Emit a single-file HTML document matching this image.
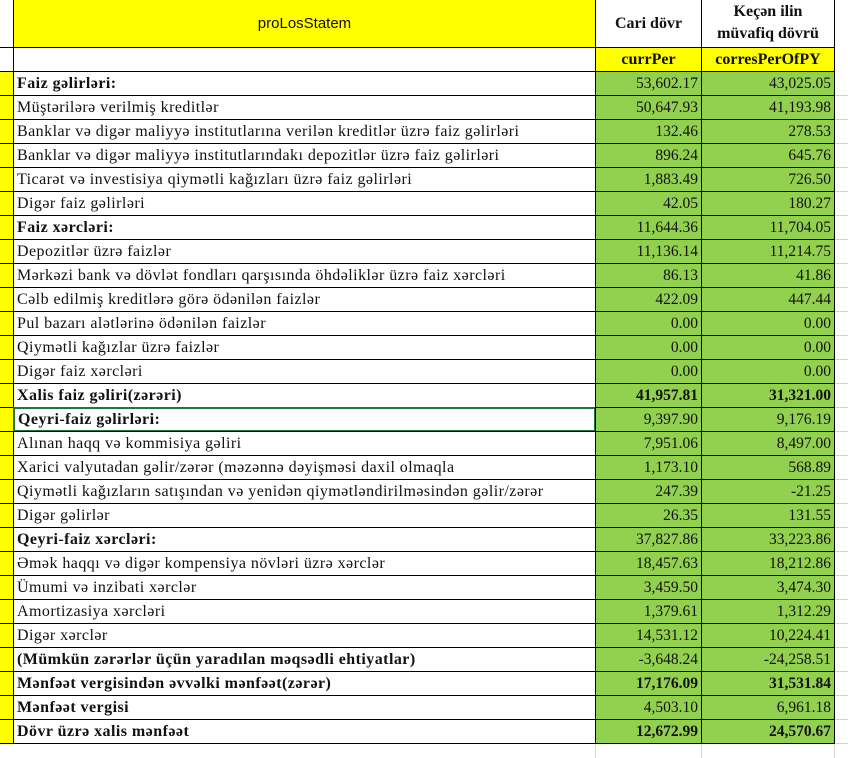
<!DOCTYPE html>
<html><head><meta charset="utf-8"><style>
body{margin:0;width:848px;height:758px;background:#fff;position:relative;overflow:hidden;font-family:"Liberation Serif",serif;font-size:15px;color:#111}
.c{position:absolute;box-sizing:border-box;border:1px solid #000;white-space:nowrap;overflow:hidden;line-height:23px}
.g{background:#92d050;text-align:right;padding-right:3px;font-size:15.5px}
.y{background:#ffff00}
.l{padding-left:3px;font-size:16px;letter-spacing:0.45px}
.b{font-weight:bold}
.grid{position:absolute;background:#d4d4d4}
</style></head><body>
<div class="c y" style="left:-1px;top:-1px;width:15px;height:49px;background:#fff"></div>
<div class="c y" style="left:13px;top:-1px;width:583px;height:49px;text-align:center;font-family:'Liberation Sans',sans-serif;line-height:47px">proLosStatem</div>
<div class="c b" style="left:595px;top:-1px;width:107px;height:49px;text-align:center;line-height:47px;font-size:16px">Cari dövr</div>
<div class="c b" style="left:701px;top:-1px;width:134px;height:49px;text-align:center;line-height:22px;padding-top:1px;font-size:16px">Keçən ilin<br>müvafiq dövrü</div>
<div class="c" style="left:-1px;top:47px;width:15px;height:25px"></div>
<div class="c" style="left:13px;top:47px;width:583px;height:25px"></div>
<div class="c y b" style="left:595px;top:47px;width:107px;height:25px;text-align:center;font-size:16px">currPer</div>
<div class="c y b" style="left:701px;top:47px;width:134px;height:25px;text-align:center;font-size:16px">corresPerOfPY</div>
<div id="rows"></div>
<script>
var d=[
["Faiz gəlirləri:","53,602.17","43,025.05",1,0],
["Müştərilərə verilmiş kreditlər","50,647.93","41,193.98",0,0],
["Banklar və digər maliyyə institutlarına verilən kreditlər üzrə faiz gəlirləri","132.46","278.53",0,0],
["Banklar və digər maliyyə institutlarındakı depozitlər üzrə faiz gəlirləri","896.24","645.76",0,0],
["Ticarət və investisiya qiymətli kağızları üzrə faiz gəlirləri","1,883.49","726.50",0,0],
["Digər faiz gəlirləri","42.05","180.27",0,0],
["Faiz xərcləri:","11,644.36","11,704.05",1,0],
["Depozitlər üzrə faizlər","11,136.14","11,214.75",0,0],
["Mərkəzi bank və dövlət fondları qarşısında öhdəliklər üzrə faiz xərcləri","86.13","41.86",0,0],
["Cəlb edilmiş kreditlərə görə ödənilən faizlər","422.09","447.44",0,0],
["Pul bazarı alətlərinə ödənilən faizlər","0.00","0.00",0,0],
["Qiymətli kağızlar üzrə faizlər","0.00","0.00",0,0],
["Digər faiz xərcləri","0.00","0.00",0,0],
["Xalis faiz gəliri(zərəri)","41,957.81","31,321.00",1,1],
["Qeyri-faiz gəlirləri:","9,397.90","9,176.19",1,0],
["Alınan haqq və kommisiya gəliri","7,951.06","8,497.00",0,0],
["Xarici valyutadan gəlir/zərər (məzənnə dəyişməsi daxil olmaqla","1,173.10","568.89",0,0],
["Qiymətli kağızların satışından və yenidən qiymətləndirilməsindən gəlir/zərər","247.39","-21.25",0,0],
["Digər gəlirlər","26.35","131.55",0,0],
["Qeyri-faiz xərcləri:","37,827.86","33,223.86",1,0],
["Əmək haqqı və digər kompensiya növləri üzrə xərclər","18,457.63","18,212.86",0,0],
["Ümumi və inzibati xərclər","3,459.50","3,474.30",0,0],
["Amortizasiya xərcləri","1,379.61","1,312.29",0,0],
["Digər xərclər","14,531.12","10,224.41",0,0],
["(Mümkün zərərlər üçün yaradılan məqsədli ehtiyatlar)","-3,648.24","-24,258.51",1,0],
["Mənfəət vergisindən əvvəlki mənfəət(zərər)","17,176.09","31,531.84",1,1],
["Mənfəət vergisi","4,503.10","6,961.18",1,0],
["Dövr üzrə xalis mənfəət","12,672.99","24,570.67",1,1]];
var h="";
d.forEach(function(r,i){var t=71+i*24;var vb=r[4]?" b":"";
h+='<div class="c y" style="left:-1px;top:'+t+'px;width:15px;height:25px"></div>';
var extra=i==14?';border:2px solid #217346;line-height:21px':'';
h+='<div class="c l'+(r[3]?' b':'')+'" style="left:13px;top:'+t+'px;width:583px;height:25px'+extra+'">'+r[0]+'</div>';
h+='<div class="c g'+vb+'" style="left:595px;top:'+t+'px;width:107px;height:25px">'+r[1]+'</div>';
h+='<div class="c g'+vb+'" style="left:701px;top:'+t+'px;width:134px;height:25px">'+r[2]+'</div>';
h+='<div class="grid" style="left:835px;top:'+(t+24)+'px;width:13px;height:1px"></div>';
});
h+='<div class="grid" style="left:701px;top:744px;width:1px;height:14px"></div><div class="grid" style="left:595px;top:744px;width:1px;height:14px"></div><div class="grid" style="left:834px;top:744px;width:1px;height:14px"></div>';
document.getElementById("rows").innerHTML=h;
</script>
</body></html>
